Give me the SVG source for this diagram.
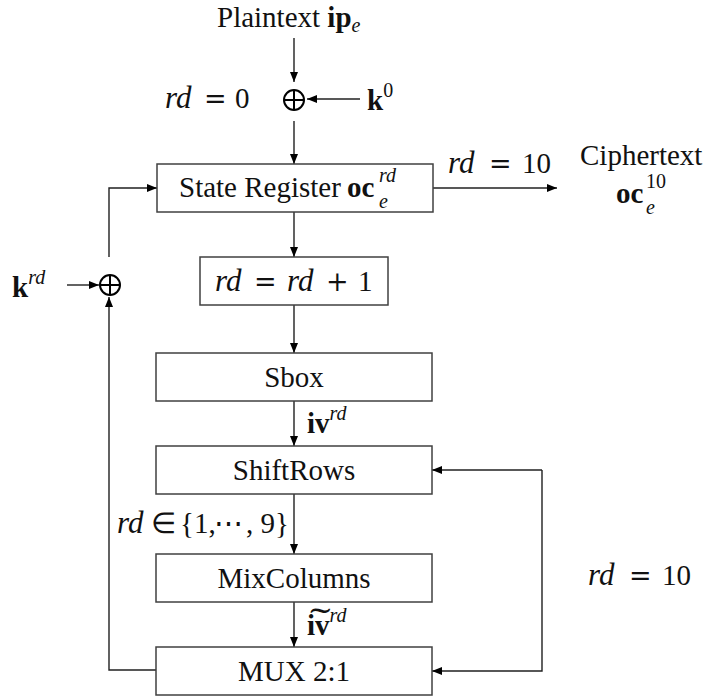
<svg xmlns="http://www.w3.org/2000/svg" width="707" height="700" viewBox="0 0 707 700">
<defs>
<marker id="ah" viewBox="0 0 10 10" refX="10" refY="5" markerWidth="10" markerHeight="10" markerUnits="userSpaceOnUse" orient="auto"><path d="M0,1 L10,5 L0,9 z" fill="#000"/></marker>
</defs>
<style>
.box{fill:#fff;stroke:#404040;stroke-width:1.5}
.ln{fill:none;stroke:#202020;stroke-width:1.4}
.xor{fill:none;stroke:#000;stroke-width:2}
.t{font-family:"Liberation Serif","Times New Roman",serif;font-size:29px;fill:#111}
.i{font-style:italic}
.mi{font-style:italic;font-size:31px}
.eq{font-family:"DejaVu Serif",serif;font-size:27px}
.b{font-weight:bold}
.sup{font-size:20px}
.c{text-anchor:middle}
</style>
<g id="connectors">
<path class="ln" d="M294,38 L294,82" marker-end="url(#ah)"/>
<path class="ln" d="M360,99 L307,99" marker-end="url(#ah)"/>
<path class="ln" d="M294,121 L294,164" marker-end="url(#ah)"/>
<path class="ln" d="M433,188 L557,188" marker-end="url(#ah)"/>
<path class="ln" d="M294,212 L294,257" marker-end="url(#ah)"/>
<path class="ln" d="M294,305 L294,353" marker-end="url(#ah)"/>
<path class="ln" d="M294,401 L294,446" marker-end="url(#ah)"/>
<path class="ln" d="M294,494 L294,554" marker-end="url(#ah)"/>
<path class="ln" d="M294,602 L294,647" marker-end="url(#ah)"/>
<path class="ln" d="M542,470 L432,470" marker-end="url(#ah)"/>
<path class="ln" d="M542,470 L542,671 L432,671" marker-end="url(#ah)"/>
<path class="ln" d="M156,670 L109,670 L109,297" marker-end="url(#ah)"/>
<path class="ln" d="M109,257 L109,188 L157,188" marker-end="url(#ah)"/>
<path class="ln" d="M67,285 L99,285" marker-end="url(#ah)"/>
</g>
<g id="plaintext"><text class="t" x="217" y="27">Plaintext <tspan class="b">ip</tspan><tspan class="i sup" dy="5">e</tspan></text></g>
<g id="xor0">
<circle class="xor" cx="294" cy="100" r="10"/>
<path class="xor" d="M284,100 L304,100 M294,90 L294,110"/>
</g>
<g id="label-rd0"><text class="t" y="108"><tspan class="mi" x="165">rd</tspan><tspan class="eq" x="204">=</tspan><tspan x="235">0</tspan></text></g>
<g id="k0"><text class="t" x="367" y="110"><tspan class="b">k</tspan><tspan class="sup" dy="-13">0</tspan></text></g>
<g id="state-register">
<rect class="box" x="157" y="164" width="276" height="48"/>
<text class="t" x="179" y="197">State Register<tspan class="b" x="347">oc</tspan><tspan class="i sup" x="379" y="208">e</tspan><tspan class="i sup" x="379" y="182">rd</tspan></text>
</g>
<g id="label-rd10-top"><text class="t" y="173"><tspan class="mi" x="448">rd</tspan><tspan class="eq" x="489">=</tspan><tspan x="522">10</tspan></text></g>
<g id="ciphertext">
<text class="t" x="580" y="165">Ciphertext</text>
<text class="t" x="616" y="203"><tspan class="b">oc</tspan><tspan class="i sup" x="646" y="214">e</tspan><tspan class="sup" x="646" y="188">10</tspan></text>
</g>
<g id="xor-rd">
<circle class="xor" cx="110" cy="285" r="10"/>
<path class="xor" d="M100,285 L120,285 M110,275 L110,295"/>
</g>
<g id="k-rd"><text class="t" x="12" y="297"><tspan class="b">k</tspan><tspan class="i sup" dy="-13">rd</tspan></text></g>
<g id="increment">
<rect class="box" x="200" y="257" width="188" height="48"/>
<text class="t" y="291"><tspan class="mi" x="215">rd</tspan><tspan class="eq" x="254">=</tspan><tspan class="mi" x="287">rd</tspan><tspan class="eq" x="326">+</tspan><tspan x="358">1</tspan></text>
</g>
<g id="sbox">
<rect class="box" x="156" y="353" width="276" height="48"/>
<text class="t c" x="294" y="387">Sbox</text>
</g>
<g id="label-iv"><text class="t" x="307" y="433"><tspan class="b">iv</tspan><tspan class="i sup" dy="-13">rd</tspan></text></g>
<g id="shiftrows">
<rect class="box" x="156" y="446" width="276" height="48"/>
<text class="t c" x="294" y="480">ShiftRows</text>
</g>
<g id="label-rd-set"><text class="t" y="533"><tspan class="mi" x="117">rd</tspan><tspan x="151">∈</tspan><tspan x="180">{1,</tspan><tspan x="214">⋯</tspan><tspan x="246">, 9}</tspan></text></g>
<g id="mixcolumns">
<rect class="box" x="156" y="554" width="276" height="48"/>
<text class="t c" x="294" y="588">MixColumns</text>
</g>
<g id="label-ivt">
<text class="t" x="307" y="635"><tspan class="b">i͠v</tspan><tspan class="i sup" dy="-13">rd</tspan></text>
</g>
<g id="mux">
<rect class="box" x="156" y="647" width="276" height="48"/>
<text class="t c" x="294" y="681">MUX 2:1</text>
</g>
<g id="label-rd10-right"><text class="t" y="585"><tspan class="mi" x="588">rd</tspan><tspan class="eq" x="629">=</tspan><tspan x="662">10</tspan></text></g>
</svg>
